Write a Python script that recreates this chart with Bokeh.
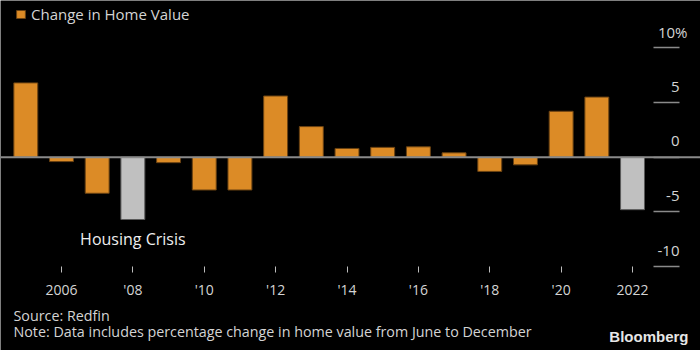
from bokeh.plotting import figure
from bokeh.models import (FixedTicker, Span, Label, Legend, LegendItem,
                          ColumnDataSource, Range1d)
from bokeh.embed import file_html
from bokeh.resources import INLINE

# ---- data ----
years = list(range(2005, 2023))
values = [6.8, -0.4, -3.3, -5.7, -0.5, -3.0, -3.0, 5.6, 2.8, 0.8,
          0.9, 0.95, 0.4, -1.3, -0.7, 4.2, 5.5, -4.8]
highlight_years = [2008, 2022]
x_ticks = [2006, 2008, 2010, 2012, 2014, 2016, 2018, 2020, 2022]
x_tick_labels = ["2006", "'08", "'10", "'12", "'14", "'16", "'18", "'20", "2022"]
y_ticks = [-10, -5, 0, 5, 10]
y_tick_labels = ["-10", "-5", "0", "5", "10%"]
series_name = "Change in Home Value"
annotation_text = "Housing Crisis"
annotation_year = 2008
annotation_value = -7.5
source_text = "Source: Redfin"
note_text = "Note: Data includes percentage change in home value from June to December"

# ---- style ----
ORANGE = "#DC8B26"
ORANGE_EDGE = "#6a4212"
GRAY = "#C0C0C0"
GRAY_EDGE = "#5a5a5a"
TXT = "#d4d4d4"
FONT = "Open Sans"

colors = [GRAY if y in highlight_years else ORANGE for y in years]
edges = [GRAY_EDGE if y in highlight_years else ORANGE_EDGE for y in years]
src = ColumnDataSource(dict(year=years, value=values, color=colors, edge=edges))

# pixel geometry of the chart (frame = whole canvas)
W, H = 700, 350
px_per_year = 35.69
px_per_unit = 10.93
zero_px = 156.7          # canvas y of the zero line
first_bar_px = 25.3      # canvas x of the first bar centre
rule_right_px = 679      # right end of the value rules

x0 = years[0] - first_bar_px / px_per_year
y_top = zero_px / px_per_unit
y_bot = -(H - zero_px) / px_per_unit

p = figure(width=W, height=H,
           x_range=Range1d(x0, x0 + W / px_per_year),
           y_range=Range1d(y_bot, y_top),
           output_backend="svg", toolbar_location=None,
           y_axis_location="right",
           min_border_left=0, min_border_right=0,
           min_border_top=0, min_border_bottom=0)
p.background_fill_color = "black"
p.border_fill_color = "black"
p.outline_line_color = None
p.xgrid.visible = False
p.ygrid.visible = False

r = p.vbar(x="year", top="value", width=0.67, fill_color="color",
           line_color="edge", line_width=1, source=src)

zero = Span(location=0, dimension="width", line_color="#8a8a8a", line_width=2)
p.add_layout(zero)

axis_x = x0 + rule_right_px / px_per_year

# x axis
xa = p.xaxis[0]
xa.fixed_location = min(y_ticks)
xa.ticker = FixedTicker(ticks=x_ticks)
xa.major_label_overrides = {t: l for t, l in zip(x_ticks, x_tick_labels)}
xa.axis_line_color = None
xa.major_tick_in = 0
xa.major_tick_out = 6
xa.minor_tick_line_color = None
xa.major_tick_line_color = "#bdbdbd"
xa.major_label_text_font = FONT
xa.major_label_text_font_size = "14px"
xa.major_label_text_color = TXT
xa.major_label_standoff = 7

# y axis (short value rules)
ya = p.yaxis[0]
ya.fixed_location = axis_x
ya.ticker = FixedTicker(ticks=y_ticks)
ya.axis_line_color = None
ya.major_tick_in = 26
ya.major_tick_out = 0
ya.minor_tick_line_color = None
ya.major_tick_line_color = "#8a8a8a"
ya.major_tick_line_width = 1.5
ya.major_label_text_color = None

lift = 16 / px_per_unit
for t, lab in zip(y_ticks, y_tick_labels):
    p.add_layout(Label(x=axis_x + (8 / px_per_year if lab.endswith("%") else 0),
                       y=t + lift, text=lab,
                       text_align="right", text_baseline="alphabetic",
                       text_font=FONT, text_font_size="15px", text_color=TXT))

legend = Legend(items=[LegendItem(label=series_name, renderers=[r], index=0)],
                location=(15, H - 24), padding=0, margin=0, spacing=0,
                glyph_width=11, glyph_height=10, label_height=10,
                label_standoff=5, border_line_color=None,
                background_fill_alpha=0, label_text_font=FONT,
                label_text_font_size="15px", label_text_color=TXT)
p.add_layout(legend)

p.add_layout(Label(x=annotation_year, y=annotation_value, text=annotation_text,
                   text_align="center", text_baseline="alphabetic",
                   text_font=FONT, text_font_size="16px", text_color="#eeeeee"))

p.add_layout(Label(x=13, y=H - 315, x_units="screen", y_units="screen",
                   text=source_text, text_baseline="alphabetic",
                   text_font=FONT, text_font_size="14.3px", text_color=TXT))
p.add_layout(Label(x=13, y=H - 331, x_units="screen", y_units="screen",
                   text=note_text, text_baseline="alphabetic",
                   text_font=FONT, text_font_size="14.3px", text_color=TXT))
p.add_layout(Label(x=688, y=H - 336, x_units="screen", y_units="screen",
                   text="Bloomberg", text_align="right", text_baseline="alphabetic",
                   text_font="Liberation Sans", text_font_style="bold",
                   text_font_size="15px", text_color="#e6e6e6"))

open("out.html", "w").write(file_html(p, INLINE))
